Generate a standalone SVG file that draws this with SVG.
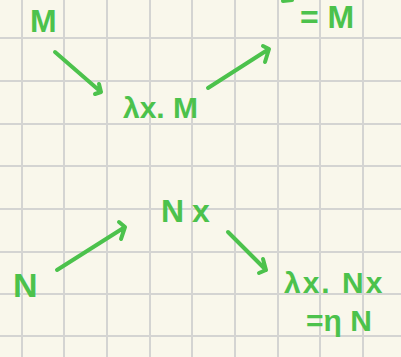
<svg xmlns="http://www.w3.org/2000/svg" width="401" height="357" viewBox="0 0 401 357">
<style>
.grid line{stroke:#d4d4d2;stroke-width:2}
.ink{fill:#4cc24c;font-family:"Liberation Sans",Arial,sans-serif;font-weight:bold}
.arr{fill:none;stroke:#4cc24c;stroke-width:4;stroke-linecap:round;stroke-linejoin:round}
</style>
<rect width="401" height="357" fill="#f9f7eb"/>
<g class="grid">
<line x1="22" y1="0" x2="22" y2="357"/>
<line x1="64" y1="0" x2="64" y2="357"/>
<line x1="107" y1="0" x2="107" y2="357"/>
<line x1="150" y1="0" x2="150" y2="357"/>
<line x1="192" y1="0" x2="192" y2="357"/>
<line x1="235" y1="0" x2="235" y2="357"/>
<line x1="278" y1="0" x2="278" y2="357"/>
<line x1="320" y1="0" x2="320" y2="357"/>
<line x1="363" y1="0" x2="363" y2="357"/>
<line x1="0" y1="38" x2="401" y2="38"/>
<line x1="0" y1="81" x2="401" y2="81"/>
<line x1="0" y1="124" x2="401" y2="124"/>
<line x1="0" y1="166" x2="401" y2="166"/>
<line x1="0" y1="209" x2="401" y2="209"/>
<line x1="0" y1="252" x2="401" y2="252"/>
<line x1="0" y1="294" x2="401" y2="294"/>
<line x1="0" y1="336" x2="401" y2="336"/>
</g>
<g id="connectors">
<path class="arr" d="M55,52 L101,92 M99,84 L101,92 L95,94"/>
<path class="arr" d="M208,88 L269,49 M263,46 L269,49 L265,62"/>
<path class="arr" d="M57,270 L125,227 M119,222 L125,227 L121,239"/>
<path class="arr" d="M228,232 L266,270 M263,259 L266,270 L259,273"/>
</g>
<g id="node-M"><text class="ink" x="30" y="32" font-size="32">M</text></g>
<g id="node-eqM"><path class="arr" d="M283,1 L292,0"/><text class="ink" x="300" y="28" font-size="32">= M</text></g>
<g id="node-lamM"><text class="ink" x="123" y="118" font-size="30">λx. M</text></g>
<g id="node-Nx"><text class="ink" x="161" y="222" font-size="32" letter-spacing="8">Nx</text></g>
<g id="node-N"><text class="ink" x="13" y="297" font-size="34">N</text></g>
<g id="node-lamNx"><text class="ink" x="284" y="293" font-size="30" letter-spacing="2">λx. Nx</text><text class="ink" x="306" y="331" font-size="30">=η N</text></g>
</svg>
